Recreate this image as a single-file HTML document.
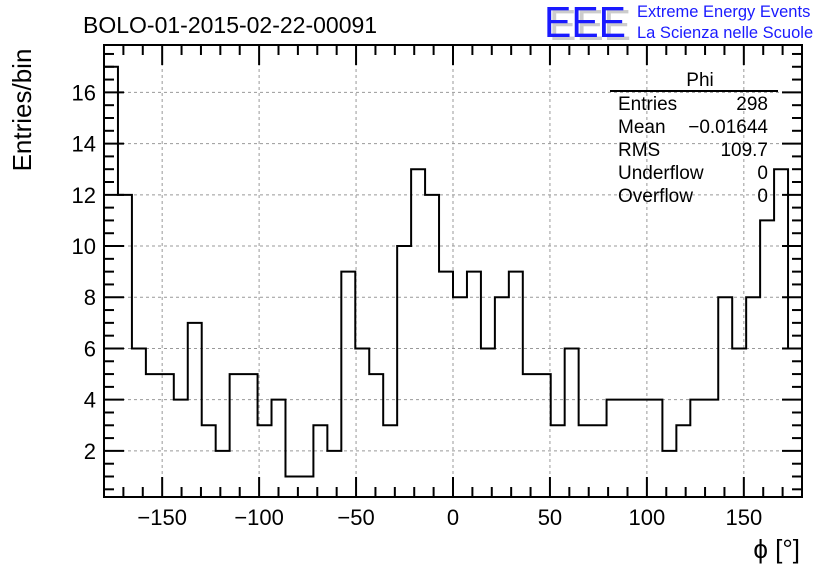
<!DOCTYPE html>
<html><head><meta charset="utf-8"><style>
body{margin:0;background:#fff;}
svg{display:block;font-family:"Liberation Sans",sans-serif;}
</style></head><body>
<svg id="chart" width="836" height="572" viewBox="0 0 836 572">
<rect width="836" height="572" fill="#fff"/>
<text x="83" y="33" font-size="23" fill="#000">BOLO-01-2015-02-22-00091</text>
<g>
<text x="549" y="40" font-size="44" fill="#ccc" textLength="82" lengthAdjust="spacingAndGlyphs">EEE</text>
<text x="544" y="37" font-size="44" fill="#1a1aff" textLength="82" lengthAdjust="spacingAndGlyphs">EEE</text>
<text x="637" y="17" font-size="16.5" fill="#1a1aff">Extreme Energy Events</text>
<text x="637" y="38" font-size="16.5" fill="#1a1aff">La Scienza nelle Scuole</text>
</g>
<g id="grid"></g>
<g id="ticks"></g>
<g id="labels"></g>
<path id="hist" fill="none" stroke="#000" stroke-width="2"/>
<rect x="104" y="45" width="698" height="452" fill="none" stroke="#000" stroke-width="2"/>
<text transform="translate(31,110) rotate(-90)" text-anchor="middle" font-size="26">Entries/bin</text>
<text x="800" y="558" text-anchor="end" font-size="26">ϕ [°]</text>
<g font-size="19">
<line x1="610" y1="91" x2="778" y2="91" stroke="#000" stroke-width="2"/>
<text x="700" y="86" text-anchor="middle">Phi</text>
<text x="618" y="110">Entries</text><text x="768" y="110" text-anchor="end">298</text>
<text x="618" y="133">Mean</text><text x="768" y="133" text-anchor="end">−0.01644</text>
<text x="618" y="156">RMS</text><text x="768" y="156" text-anchor="end">109.7</text>
<text x="618" y="179">Underflow</text><text x="768" y="179" text-anchor="end">0</text>
<text x="618" y="202">Overflow</text><text x="768" y="202" text-anchor="end">0</text>
</g>
</svg>
<script>
const binCounts = [17,12,6,5,5,4,7,3,2,5,5,3,4,1,1,3,2,9,6,5,3,10,13,12,9,
                   8,9,6,8,9,5,5,3,6,3,3,4,4,4,4,2,3,4,4,8,6,8,11,13,6];
const xMin = -180, xMax = 180;
const yMin = 0.2, yMax = 17.85;
const xTickLabels = [-150,-100,-50,0,50,100,150];
const yTickLabels = [2,4,6,8,10,12,14,16];

const L=104,R=802,T=45,B=497;
const sx=v=>L+(v-xMin)/(xMax-xMin)*(R-L);
const sy=v=>B-(v-yMin)/(yMax-yMin)*(B-T);
const NS='http://www.w3.org/2000/svg';
function mk(tag,attrs,parent){const e=document.createElementNS(NS,tag);for(const k in attrs)e.setAttribute(k,attrs[k]);parent.appendChild(e);return e;}
const grid=document.getElementById('grid'),ticks=document.getElementById('ticks'),labels=document.getElementById('labels');
xTickLabels.forEach(v=>{
  const x=sx(v);
  const g=mk('line',{x1:x,y1:T,x2:x,y2:B,stroke:'#999','stroke-dasharray':'3,3','stroke-width':1},grid);
  
  
  const t=mk('text',{x:x,y:525,'text-anchor':'middle','font-size':22},labels);
  
  
  t.textContent=(v<0?'−'+(-v):v);
});
yTickLabels.forEach(v=>{
  const y=sy(v);
  const g=mk('line',{x1:L,y1:y,x2:R,y2:y,stroke:'#999','stroke-dasharray':'3,3','stroke-width':1},grid);
  
  
  const t=mk('text',{x:96,y:y+8,'text-anchor':'end','font-size':22},labels);
  
  
  t.textContent=v;
});
for(let v=-180;v<=180;v+=10){
  const x=sx(v);const len=(v%50===0)?20:10;
  mk('line',{x1:x,y1:B,x2:x,y2:B-len,stroke:'#000','stroke-width':2},ticks);
  mk('line',{x1:x,y1:T,x2:x,y2:T+len,stroke:'#000','stroke-width':2},ticks);
}
for(let v=0.5;v<yMax;v+=0.5){
  const y=sy(v);const len=(v%2===0)?20:10;
  mk('line',{x1:L,y1:y,x2:L+len,y2:y,stroke:'#000','stroke-width':2},ticks);
  mk('line',{x1:R,y1:y,x2:R-len,y2:y,stroke:'#000','stroke-width':2},ticks);
}
const bw=(xMax-xMin)/binCounts.length;
let d='';
binCounts.forEach((c,i)=>{
  const x0=sx(xMin+i*bw),x1=sx(xMin+(i+1)*bw),y=sy(c);
  d+=(i===0?'M':'L')+x0+','+y+'L'+x1+','+y;
});
document.getElementById('hist').setAttribute('d',d);
</script>
</body></html>
